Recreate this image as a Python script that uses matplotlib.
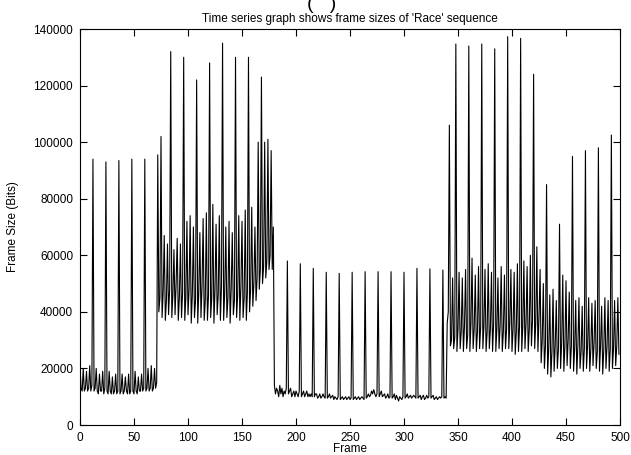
import numpy as np
import matplotlib
matplotlib.use("Agg")
import matplotlib.pyplot as plt

# frame sizes in kbit, one list per scene of the 'Race' sequence (GOP of 12)
scene1 = [
    21, 13, 12, 20, 12, 13, 19, 12, 13, 21, 12, 14,
    94, 12, 13, 20, 12, 11, 18, 12, 12, 19, 11, 13,
    93, 12, 11, 19, 12, 11, 17, 11, 12, 18, 11, 12,
    93.5, 11, 12, 18, 11, 12, 17, 12, 11, 18, 11, 12,
    94, 12, 11, 19, 12, 11, 17, 12, 12, 18, 12, 13,
    94, 12, 13, 20, 12, 13, 21, 12, 13, 20, 13, 15,
]
scene2 = [
    95.5, 40, 45, 102, 38, 47, 67, 37, 44, 64, 39, 48,
    132, 38, 46, 62, 39, 50, 66, 37, 45, 64, 38, 47,
    130, 37, 45, 72, 39, 48, 74, 36, 46, 70, 38, 44,
    122, 36, 47, 68, 38, 49, 73, 37, 44, 75, 37, 46,
    128, 38, 45, 78, 36, 48, 71, 39, 46, 74, 37, 49,
    135, 37, 47, 70, 38, 45, 72, 36, 48, 68, 39, 44,
    130, 38, 46, 74, 37, 49, 72, 38, 45, 76, 37, 47,
    130, 40, 48, 77, 42, 50, 70, 44, 52, 100, 48, 55,
    123, 50, 56, 100, 52, 58, 101, 55, 60, 97, 55, 70,
]
scene3 = [
    14, 11, 13, 12, 10, 14, 11, 13, 10, 12, 11, 13,
    58, 11, 12, 13, 10, 11, 12, 10, 12, 11, 10, 12,
    57, 10, 11, 12, 10, 11, 12, 10, 11, 10, 11, 10,
    55.4, 10, 11, 11, 9.5, 10, 11, 9.5, 10, 11, 10, 9.5,
    54, 9.5, 10, 11, 9.5, 10, 10.5, 9, 10, 9.5, 9, 10,
    53.6, 9, 9.5, 10, 9, 9.5, 10, 9, 9.5, 10, 9, 9.5,
    54, 9, 9.5, 10, 9, 9.5, 10, 9, 9.5, 10, 9.5, 9,
    54.2, 9.5, 10, 11, 10, 10.5, 12, 11, 12.5, 11, 10, 11,
    54.2, 10, 11, 12, 10, 10.5, 11, 9.5, 10, 11, 9.5, 10,
    54.2, 9.5, 10, 11, 9, 10.5, 9.5, 8.5, 10, 9.5, 9, 10,
    54, 9.5, 10, 11, 9.5, 10, 10.5, 9.5, 10, 10.5, 10, 9.5,
    55.4, 9.5, 10, 10.5, 9, 10, 10.5, 9, 9.5, 10.5, 9.5, 10,
    55.2, 9.5, 10, 10.5, 9, 9.5, 10, 9, 9.5, 10, 9.5, 10,
    54.8, 9.5, 10, 9.5,
]
scene4 = [
    36, 40, 106, 28, 30, 52, 27, 31,
    134.7, 26, 34, 54, 27, 33, 52, 26, 35, 55, 27, 32,
    134, 26, 36, 59, 27, 34, 53, 26, 33, 56, 27, 35,
    134.7, 27, 35, 55, 26, 33, 57, 27, 34, 54, 26, 36,
    133, 26, 34, 52, 27, 35, 56, 26, 33, 53, 27, 34,
    137.3, 27, 36, 55, 26, 34, 54, 25, 33, 57, 26, 35,
    136.7, 26, 35, 58, 27, 36, 56, 26, 34, 60, 28, 37,
    124, 27, 36, 63, 26, 38, 55, 22, 30, 50, 20, 28,
    85, 18, 27, 46, 17, 26, 48, 19, 28, 44, 20, 27,
    71, 20, 29, 53, 19, 28, 51, 21, 30, 47, 20, 28,
    95, 19, 27, 44, 18, 28, 45, 20, 26, 42, 19, 27,
    97, 20, 28, 45, 19, 27, 43, 21, 29, 44, 20, 26,
    98, 19, 28, 42, 18, 27, 45, 20, 28, 44, 19, 27,
    102.5, 20, 27, 44, 21, 28, 45, 25,
]

x_ticks = list(range(0, 501, 50))
y_ticks = list(range(0, 140001, 20000))

sizes = np.array(scene1 + scene2 + scene3 + scene4) * 1000
frames = np.arange(len(sizes))

plt.rcParams['font.family'] = ['Liberation Sans', 'DejaVu Sans']

fig = plt.figure(figsize=(6.31, 4.55), dpi=100)
ax = fig.add_axes([80 / 631, 1 - 425 / 455, 540 / 631, 396 / 455])
ax.plot(frames, sizes, color='black', lw=0.8)

ax.set_xlim(0, 500)
ax.set_ylim(0, 140000)
ax.set_xticks(x_ticks)
ax.set_yticks(y_ticks)
ax.tick_params(direction='in', top=True, right=True, length=5, width=0.8, labelsize=8.5)
ax.tick_params(axis='x', pad=5)
ax.tick_params(axis='y', pad=5)
for s in ax.spines.values():
    s.set_linewidth(0.8)

ax.set_xlabel('Frame', fontsize=8.5, labelpad=-1)
ax.set_ylabel('Frame Size (Bits)', fontsize=8.5, labelpad=10)
ax.set_title("Time series graph shows frame sizes of 'Race' sequence", fontsize=8.5, pad=5)

# caption cut off at the top edge
fig.text(322 / 631, 1 - 13 / 455, "(   )", ha='center', va='bottom', fontsize=14)

fig.savefig('out.png', dpi=100)
